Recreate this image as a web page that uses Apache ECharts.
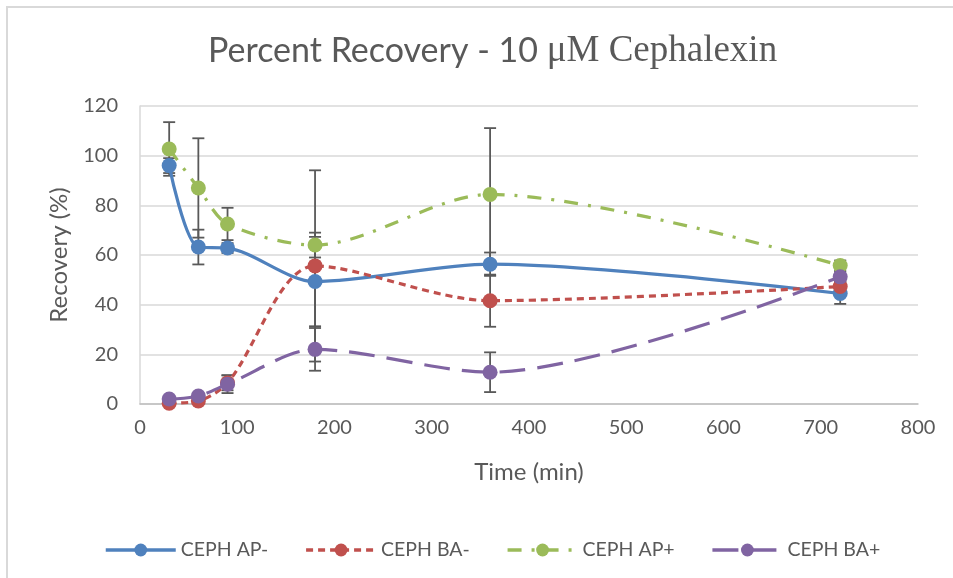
<!DOCTYPE html>
<html>
<head>
<meta charset="utf-8">
<script src="https://cdn.jsdelivr.net/npm/echarts@6/dist/echarts.min.js"></script>
<style>html,body{margin:0;padding:0;background:#fff;}#c{width:953px;height:578px;}</style>
</head>
<body>
<div id="c"></div>
<script>
var times = [30, 60, 90, 180, 360, 720];
var seriesNames = ['CEPH AP-', 'CEPH BA-', 'CEPH AP+', 'CEPH BA+'];
var apMinus = [96, 63.2, 62.8, 49.3, 56.3, 44.5];
var apMinusErr = [3, 7, 2, 18, 4.7, 4.2];
var baMinus = [0.3, 1.2, 8.5, 55.6, 41.6, 47.3];
var baMinusErr = [1, 1, 3, 38.5, 10.5, 2];
var apPlus = [102.7, 87, 72.5, 64, 84.4, 55.8];
var apPlusErr = [10.8, 20, 6.5, 5, 26.7, 2];
var baPlus = [2, 3.2, 8, 22, 12.8, 51.2];
var baPlusErr = [1, 1, 3.6, 8.6, 8, 2];
var yTicks = [0, 20, 40, 60, 80, 100, 120];
var xTicks = [0, 100, 200, 300, 400, 500, 600, 700, 800];

var colors = ['#4F81BD', '#C0504D', '#9BBB59', '#8064A2'];
var values = [apMinus, baMinus, apPlus, baPlus];
var errs = [apMinusErr, baMinusErr, apPlusErr, baPlusErr];
var dashes = ['solid', [7, 5], [14, 10, 3, 10], [26, 12]];
var textColor = '#595959';
var FONT = 'Lato';

function pairs(v) { return times.map(function (t, i) { return [t, v[i]]; }); }
function errData(v, e) { return times.map(function (t, i) { return [t, v[i] - e[i], v[i] + e[i]]; }); }

function errRender(params, api) {
  var x = api.value(0);
  var lo = api.coord([x, api.value(1)]);
  var hi = api.coord([x, api.value(2)]);
  var w = 6;
  var st = { stroke: '#595959', lineWidth: 1.8 };
  return {
    type: 'group',
    children: [
      { type: 'line', shape: { x1: lo[0], y1: lo[1], x2: hi[0], y2: hi[1] }, style: st },
      { type: 'line', shape: { x1: lo[0] - w, y1: lo[1], x2: lo[0] + w, y2: lo[1] }, style: st },
      { type: 'line', shape: { x1: hi[0] - w, y1: hi[1], x2: hi[0] + w, y2: hi[1] }, style: st }
    ]
  };
}

var series = [];
for (var k = 0; k < 4; k++) {
  series.push({
    type: 'custom',
    name: seriesNames[k] + ' err',
    renderItem: errRender,
    data: errData(values[k], errs[k]),
    encode: { x: 0, y: [1, 2] },
    z: 1,
    silent: true
  });
}
for (var k2 = 0; k2 < 4; k2++) {
  series.push({
    type: 'line',
    name: seriesNames[k2],
    data: pairs(values[k2]),
    smooth: 0.3,
    symbol: 'circle',
    symbolSize: 15,
    lineStyle: { color: colors[k2], width: 3.2, type: dashes[k2] },
    itemStyle: { color: colors[k2] },
    z: 2 + k2
  });
}

var chart = echarts.init(document.getElementById('c'));
chart.setOption({
  animation: false,
  backgroundColor: '#fff',
  title: {
    text: '{a|Percent Recovery - 10 }{b|\u03bcM Cephalexin}',
    left: 203,
    top: 28,
    textStyle: {
      rich: {
        a: { fontFamily: FONT, fontSize: 34, fontWeight: 'normal', color: textColor },
        b: { fontFamily: 'Liberation Serif', fontSize: 37, fontWeight: 'normal', color: textColor }
      }
    }
  },
  legend: {
    data: seriesNames,
    left: 99,
    top: 535,
    itemWidth: 70,
    itemHeight: 16,
    itemGap: 36,
    lineStyle: { width: 3.5 },
    textStyle: { fontFamily: FONT, fontSize: 19.5, color: textColor }
  },
  grid: { left: 140, right: 35, top: 106, bottom: 174, containLabel: false },
  xAxis: {
    type: 'value',
    min: xTicks[0],
    max: xTicks[xTicks.length - 1],
    interval: 100,
    name: 'Time (min)',
    nameLocation: 'middle',
    nameGap: 56,
    nameTextStyle: { fontFamily: FONT, fontSize: 24, color: textColor },
    axisLine: { show: true, lineStyle: { color: '#BFBFBF', width: 1.5 } },
    axisTick: { show: false },
    axisLabel: { fontFamily: FONT, fontSize: 20, color: textColor, margin: 14 },
    splitLine: { show: false }
  },
  yAxis: {
    type: 'value',
    min: yTicks[0],
    max: yTicks[yTicks.length - 1],
    interval: 20,
    name: 'Recovery (%)',
    nameLocation: 'middle',
    nameGap: 69,
    nameTextStyle: { fontFamily: FONT, fontSize: 24, color: textColor },
    axisLine: { show: true, lineStyle: { color: '#D9D9D9', width: 1.5 } },
    axisTick: { show: false },
    axisLabel: { fontFamily: FONT, fontSize: 20, color: textColor, margin: 22 },
    splitLine: { show: true, lineStyle: { color: '#D9D9D9', width: 1.5 } }
  },
  graphic: [{
    type: 'rect',
    shape: { x: 7, y: 7, width: 1000, height: 1000 },
    style: { fill: 'none', stroke: '#D9D9D9', lineWidth: 2 },
    silent: true
  }],
  series: series
});
</script>
</body>
</html>
